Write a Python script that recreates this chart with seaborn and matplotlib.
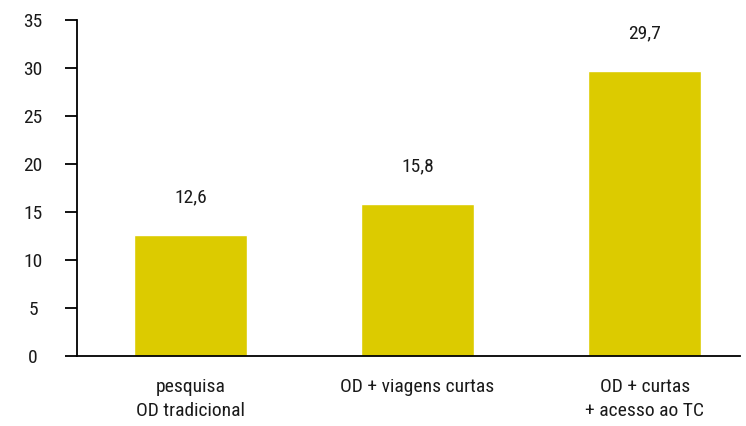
import matplotlib
matplotlib.use('Agg')
import matplotlib.pyplot as plt
import seaborn as sns
import pandas as pd

# values
categories = ['pesquisa\nOD tradicional', 'OD + viagens curtas', 'OD + curtas\n+ acesso ao TC']
values = [12.6, 15.8, 29.7]
value_labels = ['12,6', '15,8', '29,7']
yticks = [0, 5, 10, 15, 20, 25, 30, 35]

sns.set_style('white')
plt.rcParams['font.family'] = ['Roboto Condensed', 'Liberation Sans Narrow', 'Roboto', 'DejaVu Sans']

df = pd.DataFrame({'cat': categories, 'val': values})

fig = plt.figure(figsize=(7.46, 4.26), dpi=100)
ax = fig.add_axes([77 / 746, 1 - 356 / 426, (740 - 77) / 746, 336 / 426])
sns.barplot(data=df, x='cat', y='val', color='#dccb00', saturation=1, width=0.5, ax=ax)

for i, (v, lab) in enumerate(zip(values, value_labels)):
    ax.annotate(lab, (i, v), xytext=(0, 27), textcoords='offset points',
                ha='center', va='center', fontsize=14, color='#1a1a1a')

ax.set_xlim(-0.5, 2.42)
ax.set_ylim(0, 35)
ax.set_yticks(yticks)
ax.set_xlabel('')
ax.set_ylabel('')
sns.despine(ax=ax)
for s in ['left', 'bottom']:
    ax.spines[s].set_color('black')
    ax.spines[s].set_linewidth(1.3)
ax.tick_params(axis='y', left=True, length=8.6, width=1.3, color='black',
               labelsize=14, labelcolor='#1a1a1a', pad=23)
ax.tick_params(axis='x', bottom=False, length=0, labelsize=14, labelcolor='#1a1a1a', pad=16)
for t in ax.get_yticklabels():
    t.set_ha('center')
for t in ax.get_xticklabels():
    t.set_linespacing(1.4)

fig.savefig('out.png', dpi=100)
